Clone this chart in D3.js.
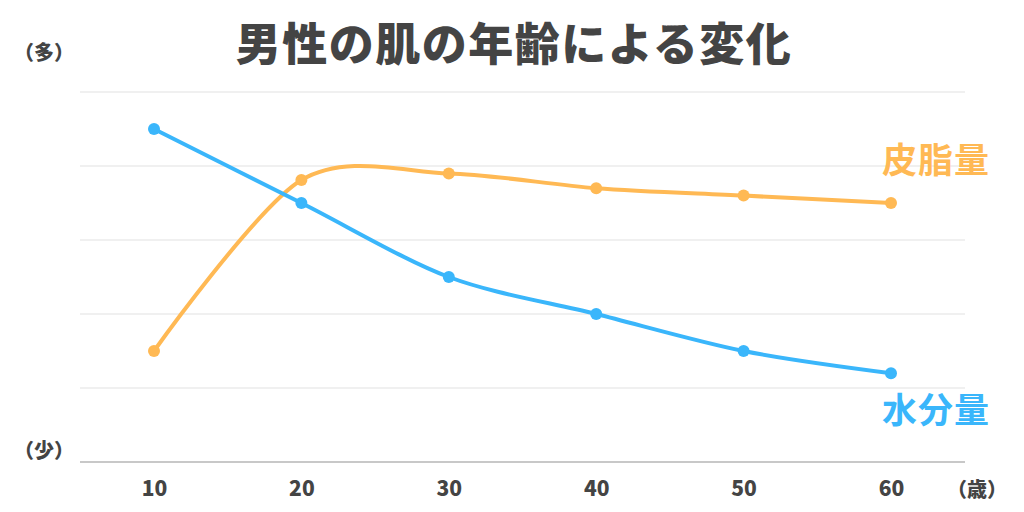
<!DOCTYPE html>
<html>
<head>
<meta charset="utf-8">
<script src="https://cdn.jsdelivr.net/npm/d3@7"></script>
<style>
  body { margin: 0; background: #fff; }
  svg { display: block; font-family: "Noto Sans CJK JP", "Noto Sans", sans-serif; }
</style>
</head>
<body>
<div id="chart"></div>
<script>
// Data (relative scale, 0 = 少, 5 = 多)
const ages = [10, 20, 30, 40, 50, 60];
const sebum = [1.5, 3.81, 3.9, 3.7, 3.6, 3.5];
const water = [4.5, 3.5, 2.5, 2.0, 1.5, 1.2];
const yTicks = [0, 1, 2, 3, 4, 5];

const width = 1024, height = 512;
const plot = { left: 80, right: 965, top: 92, bottom: 462 };

const svg = d3.select('#chart')
    .append('svg')
    .attr('width', width)
    .attr('height', height);

const x = d3.scalePoint()
    .domain(ages)
    .range([154, 891]);

const y = d3.scaleLinear()
    .domain([0, 5])
    .range([plot.bottom, plot.top]);

// Gridlines
svg.append('g')
    .selectAll('line')
    .data(yTicks)
    .join('line')
    .attr('x1', plot.left)
    .attr('x2', plot.right)
    .attr('y1', d => y(d))
    .attr('y2', d => y(d))
    .attr('stroke', d => d === 0 ? '#c8c8c8' : '#e2e2e2')
    .attr('stroke-width', d => d === 0 ? 2 : 1.2);

// X axis tick labels
const xAxis = svg.append('g')
    .attr('transform', `translate(0,${plot.bottom})`)
    .call(d3.axisBottom(x).tickSize(0).tickPadding(19));
xAxis.select('.domain').remove();
xAxis.selectAll('text')
    .attr('font-family', '"Noto Sans CJK JP", sans-serif')
    .attr('font-size', 21)
    .attr('font-weight', 900)
    .attr('fill', '#444');

// Title
svg.append('text')
    .attr('x', 514)
    .attr('y', 61)
    .attr('text-anchor', 'middle')
    .attr('font-size', 45)
    .attr('font-weight', 900)
    .attr('letter-spacing', 1.5)
    .attr('fill', '#444')
    .text('男性の肌の年齢による変化');

// Axis unit labels
const unitStyle = sel => sel
    .attr('font-size', 20)
    .attr('font-weight', 900)
    .attr('fill', '#444');

svg.append('text').attr('x', 14).attr('y', 60).text('（多）').call(unitStyle);
svg.append('text').attr('x', 14).attr('y', 458).text('（少）').call(unitStyle);
svg.append('text').attr('x', 947).attr('y', 497).text('（歳）').call(unitStyle);

// Lines
const line = d3.line()
    .x(d => x(d.age))
    .y(d => y(d.v))
    .curve(d3.curveCardinal.tension(0.1));

const series = [
    { name: '皮脂量', values: sebum, color: '#ffb954', labelY: 173 },
    { name: '水分量', values: water, color: '#3ab6fb', labelY: 423 }
];

series.forEach(s => {
    const pts = ages.map((a, i) => ({ age: a, v: s.values[i] }));
    svg.append('path')
        .datum(pts)
        .attr('d', line)
        .attr('fill', 'none')
        .attr('stroke', s.color)
        .attr('stroke-width', 4);

    svg.append('g')
        .selectAll('circle')
        .data(pts)
        .join('circle')
        .attr('cx', d => x(d.age))
        .attr('cy', d => y(d.v))
        .attr('r', 6)
        .attr('fill', s.color);

    svg.append('text')
        .attr('x', 882)
        .attr('y', s.labelY)
        .attr('font-size', 35)
        .attr('font-weight', 700)
        .attr('letter-spacing', 1)
        .attr('fill', s.color)
        .text(s.name);
});
</script>
</body>
</html>
